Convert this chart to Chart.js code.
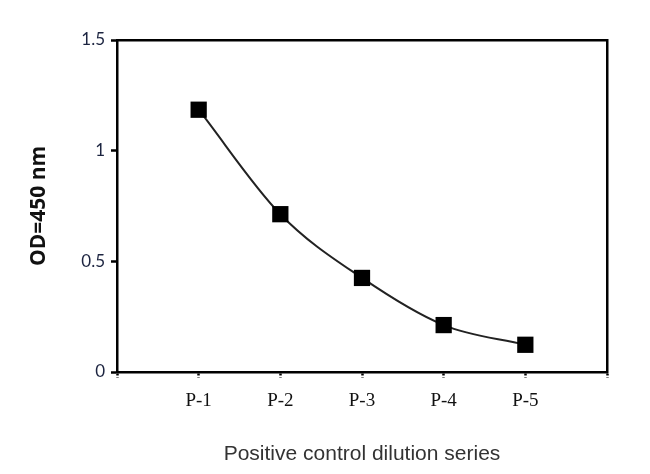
<!DOCTYPE html>
<html>
<head>
<meta charset="utf-8">
<script src="https://cdn.jsdelivr.net/npm/chart.js@4.4.0/dist/chart.umd.min.js"></script>
<style>
  html, body { margin: 0; padding: 0; background: #fff; }
  #wrap { width: 650px; height: 474px; }
</style>
</head>
<body>
<div id="wrap"><canvas id="od_chart" width="650" height="474"></canvas></div>
<script>
// dilution series
var categories = ['P-1', 'P-2', 'P-3', 'P-4', 'P-5'];
var odValues = [1.185, 0.713, 0.425, 0.212, 0.123];
var yTicks = [0, 0.5, 1, 1.5];

var points = categories.map(function (c, i) {
  return { x: i + 1, y: odValues[i] };
});

var ctx = document.getElementById('od_chart').getContext('2d');
var chart = new Chart(ctx, {
  type: 'line',
  data: {
    datasets: [{
      label: 'OD',
      data: points,
      borderColor: '#222',
      borderWidth: 2,
      cubicInterpolationMode: 'monotone',
      pointStyle: 'rect',
      pointRadius: 11.5,
      pointBackgroundColor: '#000',
      pointBorderColor: '#000',
      pointBorderWidth: 0
    }]
  },
  options: {
    responsive: false,
    animation: false,
    layout: { padding: { top: 40, right: 43, left: 0, bottom: 0 } },
    plugins: { legend: { display: false }, tooltip: { enabled: false } },
    scales: {
      x: {
        type: 'linear',
        min: 0,
        max: 6,
        afterBuildTicks: function (scale) {
          scale.ticks = [0, 1, 2, 3, 4, 5, 6].map(function (v) { return { value: v }; });
        },
        afterFit: function (scale) { scale.height = 102; },
        ticks: {
          autoSkip: false,
          maxRotation: 0,
          padding: 12,
          color: '#111',
          font: { family: 'Liberation Serif', size: 19 },
          callback: function (v) { return categories[v - 1] || ''; }
        },
        grid: {
          drawOnChartArea: false,
          tickLength: 6,
          tickWidth: 2.5,
          tickColor: '#000',
          tickBorderDash: [2, 2]
        },
        border: { color: '#000', width: 2.5 },
        title: {
          display: true,
          text: 'Positive control dilution series',
          color: '#333',
          font: { family: 'Liberation Sans', size: 21 },
          padding: { top: 0, bottom: 7 }
        }
      },
      y: {
        min: 0,
        max: 1.5,
        afterBuildTicks: function (scale) {
          scale.ticks = yTicks.map(function (v) { return { value: v }; });
        },
        afterFit: function (scale) { scale.width = 117; },
        ticks: {
          padding: 6,
          color: '#1c2440',
          font: { family: 'Lato', size: 17 },
          callback: function (v) { return String(v); }
        },
        grid: {
          drawOnChartArea: false,
          tickLength: 6,
          tickWidth: 2.5,
          tickColor: '#000'
        },
        border: { color: '#000', width: 2.5 },
        title: {
          display: true,
          text: 'OD=450 nm',
          color: '#111',
          font: { family: 'Open Sans', size: 21, weight: 'bold' },
          padding: { top: 26, bottom: 0 }
        }
      },
      x2: {
        type: 'linear',
        position: 'top',
        min: 0,
        max: 6,
        afterFit: function (scale) { scale.height = 0; },
        ticks: { display: false },
        grid: { display: false },
        border: { color: '#000', width: 2.5 }
      },
      y2: {
        position: 'right',
        min: 0,
        max: 1.5,
        afterFit: function (scale) { scale.width = 0; },
        ticks: { display: false },
        grid: { display: false },
        border: { color: '#000', width: 2.5 }
      }
    }
  }
});
</script>
</body>
</html>
